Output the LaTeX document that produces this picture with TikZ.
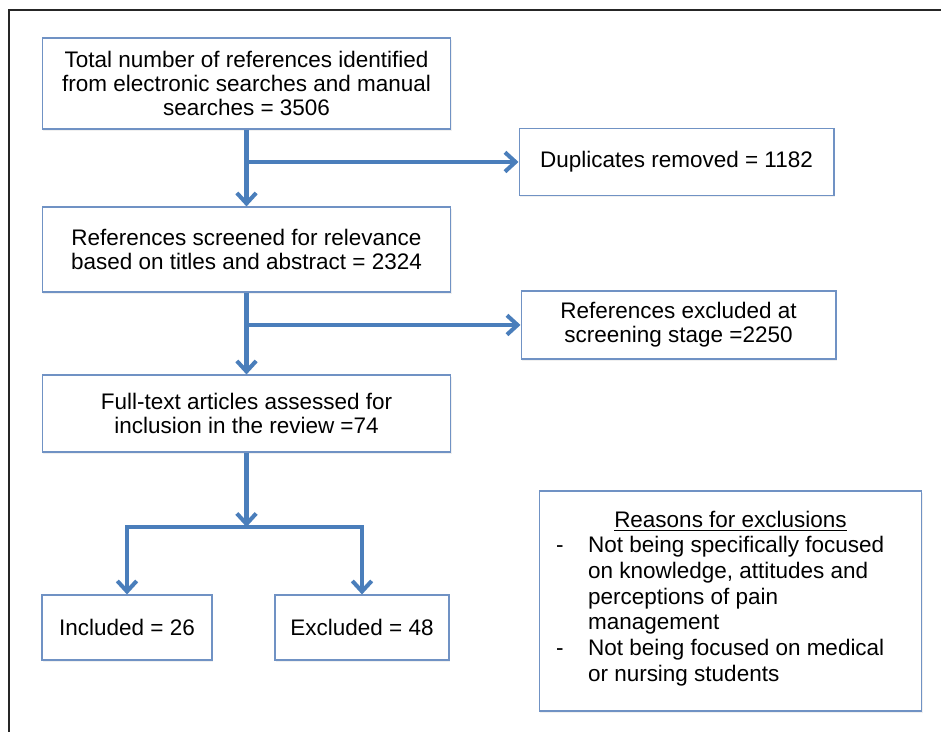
\documentclass[tikz,border=0pt]{standalone}
\usepackage{fontspec}
\setmainfont{Liberation Sans}
\usetikzlibrary{arrows.meta,shadows}
\definecolor{flowblue}{RGB}{74,126,187}
\definecolor{boxblue}{RGB}{112,146,196}

\begin{document}
\begin{tikzpicture}[x=0.02cm, y=-0.02cm,
        box/.style = {draw=boxblue, line width=0.6pt, fill=white, align=center, inner sep=0pt,
                font=\fontsize{12.8pt}{13.7pt}\selectfont,
                drop shadow={opacity=0.12, shadow xshift=0.5pt, shadow yshift=-1pt}},
        arr/.style = {draw=flowblue, line width=2.3pt, -{Straight Barb[length=6pt,width=11pt]}},
    ]
        \useasboundingbox (0,0) rectangle (941,732);
        \draw[line width=0.8pt, black!85] (941,10) -- (9,10) -- (9,732);

        \node[box, minimum width=8.18cm, minimum height=1.82cm] (total) at (246.5,83.5)
                {Total number of references identified\\from electronic searches and manual\\searches = 3506};
        \node[box, minimum width=6.3cm, minimum height=1.34cm] (dup) at (676.5,162)
                {Duplicates removed = 1182};
        \node[box, minimum width=8.18cm, minimum height=1.7cm] (screen) at (246.5,249.5)
                {References screened for relevance\\based on titles and abstract = 2324};
        \node[box, minimum width=6.3cm, minimum height=1.36cm] (excl) at (678.5,325)
                {References excluded at\\screening stage =2250};
        \node[box, minimum width=8.18cm, minimum height=1.54cm] (full) at (246.5,413.5)
                {Full-text articles assessed for\\inclusion in the review =74};
        \node[box, minimum width=3.4cm, minimum height=1.3cm] (incl) at (127,627.5)
                {Included = 26};
        \node[box, minimum width=3.48cm, minimum height=1.3cm] (excd) at (362,627.5)
                {Excluded = 48};
        \node[box, inner xsep=0.34cm, inner ysep=0.4cm] (reasons) at (730.5,601)
                {\begin{minipage}[t][3.6cm][t]{6.98cm}
                \fontsize{12.8pt}{14.6pt}\selectfont
                \centering\underline{Reasons for exclusions}\par
                \raggedright
                \makebox[0.64cm][l]{-}Not being specifically focused\\
                \hspace*{0.64cm}on knowledge, attitudes and\\
                \hspace*{0.64cm}perceptions of pain\\
                \hspace*{0.64cm}management\\
                \makebox[0.64cm][l]{-}Not being focused on medical\\
                \hspace*{0.64cm}or nursing students
                \end{minipage}};

        \coordinate (split) at (246.5,527);

        \draw[arr] (total) -- (screen);
        \draw[arr] (total.south |- dup.west) -- (dup.west);
        \draw[arr] (screen) -- (full);
        \draw[arr] (screen.south |- excl.west) -- (excl.west);
        \draw[arr] (full) -- (split);
        \draw[arr] (split) -| (incl.north);
        \draw[arr] (split) -| (excd.north);
    \end{tikzpicture}
\end{document}
